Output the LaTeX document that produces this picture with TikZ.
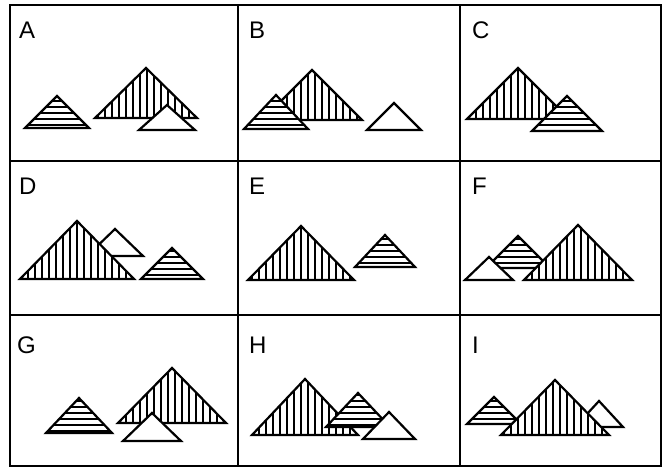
\documentclass[tikz,border=0pt]{standalone}
\usepackage{fontspec}
\setmainfont{Liberation Sans}
\usetikzlibrary{patterns.meta}

\begin{document}
\begin{tikzpicture}[
    x=1pt, y=-1pt,
    frameLine/.style={line width=2pt, line join=miter},
    bigTri/.style={draw, line width=2.2pt, line join=miter, preaction={fill=white},
        pattern={Lines[angle=90, distance=7pt, line width=1.7pt]}},
    medTri/.style={draw, line width=2.2pt, line join=miter, preaction={fill=white},
        pattern={Lines[angle=0, distance=6pt, line width=1.7pt]}},
    smallTri/.style={draw, line width=2.2pt, line join=miter, fill=white},
    panelLabel/.style={anchor=base west, inner sep=0pt, font=\fontsize{24}{24}\selectfont}
]
\useasboundingbox (0,0) rectangle (663,473);

% ----------------------------------------------------
% Frame and grid
% ----------------------------------------------------
\draw[frameLine] (10,5) rectangle (661,466);
\draw[frameLine] (238,5) -- (238,466);
\draw[frameLine] (460,5) -- (460,466);
\draw[frameLine] (10,161) -- (661,161);
\draw[frameLine] (10,315) -- (661,315);

% ----------------------------------------------------
% Row 1 (A, B, C)
% ----------------------------------------------------
\node[panelLabel] (labA) at (19,39) {A};
\draw[medTri] (57,96) -- ++(32,32) -- ++(-64,0) -- cycle;
\draw[bigTri] (146,68) -- ++(51,50) -- ++(-102,0) -- cycle;
\draw[smallTri] (167,105) -- ++(28,25) -- ++(-56,0) -- cycle;

\node[panelLabel] (labB) at (249,39) {B};
\draw[bigTri] (312,70) -- ++(50,50) -- ++(-100,0) -- cycle;
\draw[medTri] (276,95) -- ++(32,34) -- ++(-64,0) -- cycle;
\draw[smallTri] (394,103) -- ++(27,27) -- ++(-54,0) -- cycle;

\node[panelLabel] (labC) at (472,39) {C};
\draw[bigTri] (518,68) -- ++(51,51) -- ++(-102,0) -- cycle;
\draw[medTri] (567,96) -- ++(35,35) -- ++(-70,0) -- cycle;

% ----------------------------------------------------
% Row 2 (D, E, F)
% ----------------------------------------------------
\node[panelLabel] (labD) at (19,194) {D};
\draw[smallTri] (115,229) -- ++(28,27) -- ++(-56,0) -- cycle;
\draw[bigTri] (77,221) -- ++(57,58) -- ++(-114,0) -- cycle;
\draw[medTri] (172,248) -- ++(31,31) -- ++(-62,0) -- cycle;

\node[panelLabel] (labE) at (249,194) {E};
\draw[bigTri] (301,226) -- ++(53,54) -- ++(-106,0) -- cycle;
\draw[medTri] (385,235) -- ++(30,32) -- ++(-60,0) -- cycle;

\node[panelLabel] (labF) at (472,194) {F};
\draw[medTri] (518,236) -- ++(32,32) -- ++(-64,0) -- cycle;
\draw[smallTri] (489,257) -- ++(24,23) -- ++(-48,0) -- cycle;
\draw[bigTri] (578,225) -- ++(54,55) -- ++(-108,0) -- cycle;

% ----------------------------------------------------
% Row 3 (G, H, I)
% ----------------------------------------------------
\node[panelLabel] (labG) at (17,353) {G};
\draw[medTri] (79,398) -- ++(33,35) -- ++(-66,0) -- cycle;
\draw[bigTri] (172,368) -- ++(54,55) -- ++(-108,0) -- cycle;
\draw[smallTri] (152,413) -- ++(29,28) -- ++(-58,0) -- cycle;

\node[panelLabel] (labH) at (249,353) {H};
\draw[bigTri] (305,379) -- ++(53,56) -- ++(-106,0) -- cycle;
\draw[medTri] (358,393) -- ++(32,34) -- ++(-64,0) -- cycle;
\draw[smallTri] (389,412) -- ++(26,27) -- ++(-52,0) -- cycle;

\node[panelLabel] (labI) at (472,353) {I};
\draw[medTri] (494,397) -- ++(27,27) -- ++(-54,0) -- cycle;
\draw[smallTri] (599,401) -- ++(24,26) -- ++(-48,0) -- cycle;
\draw[bigTri] (555,380) -- ++(54,55) -- ++(-108,0) -- cycle;

\end{tikzpicture}
\end{document}
